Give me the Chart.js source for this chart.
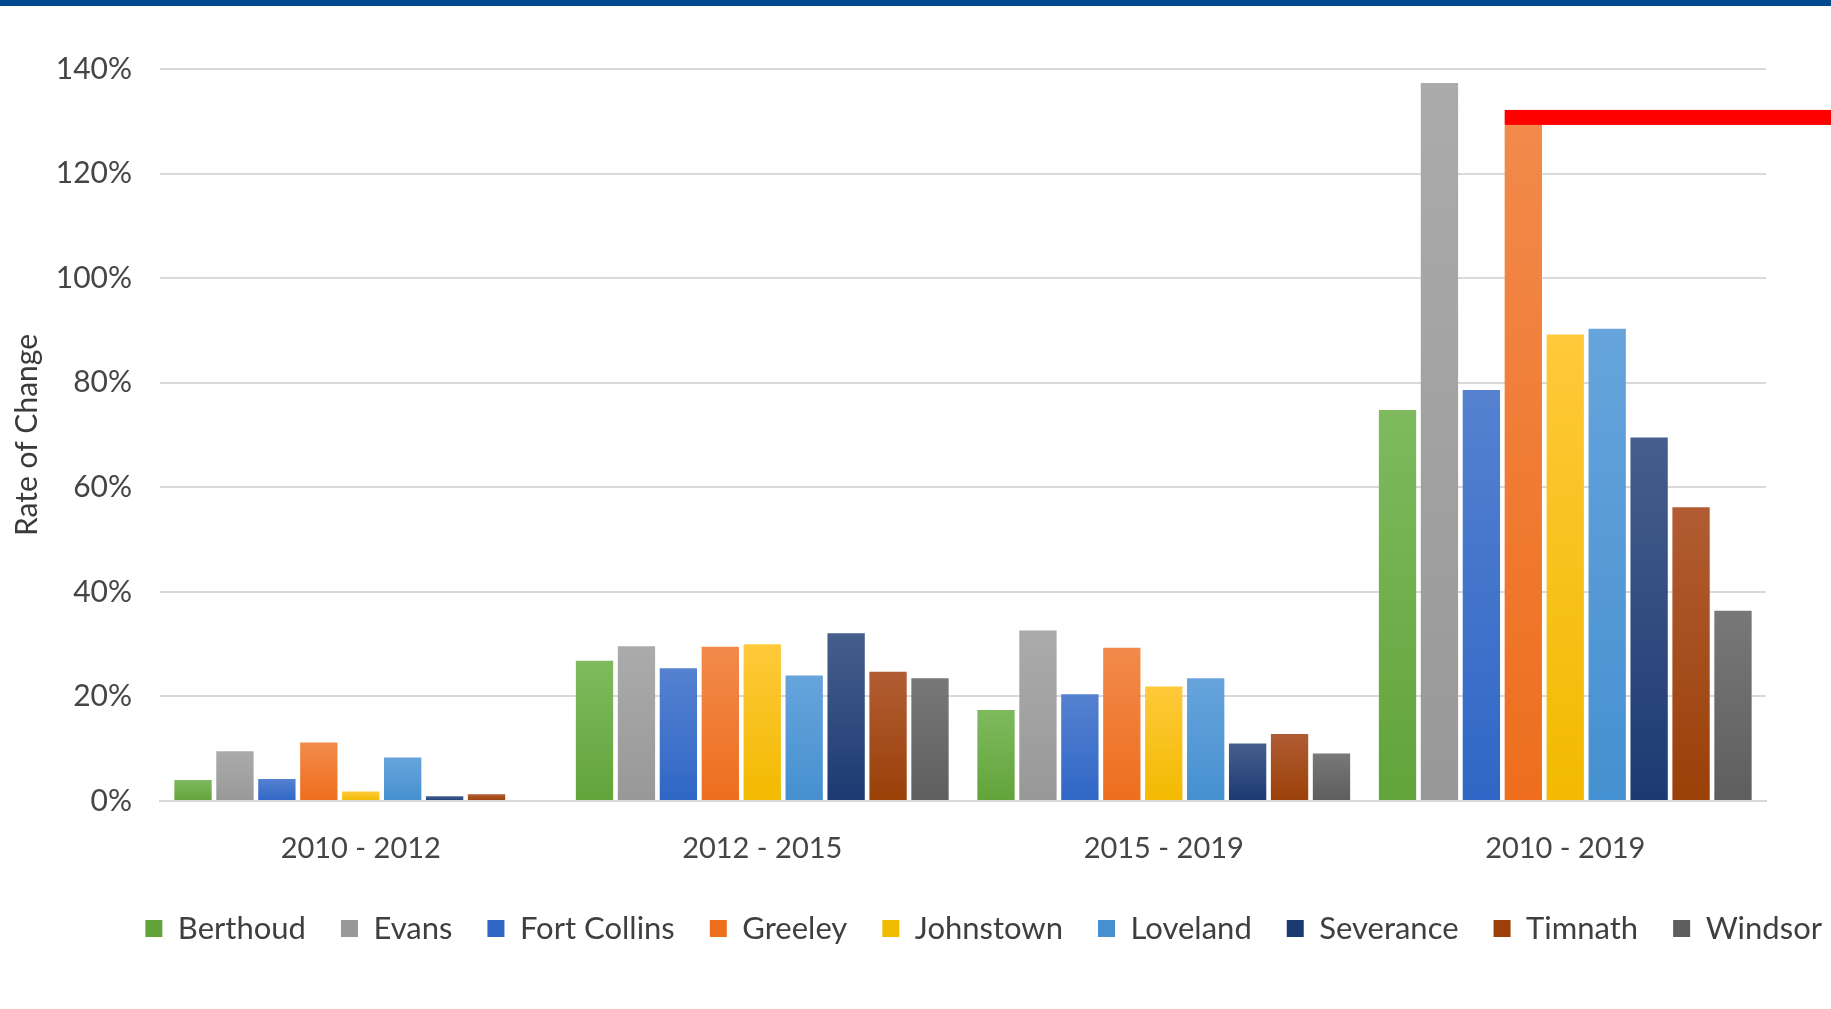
<!DOCTYPE html>
<html>
<head>
<meta charset="utf-8">
<script src="https://cdn.jsdelivr.net/npm/chart.js@4"></script>
<style>
  html, body { margin: 0; padding: 0; background: #fff; }
  #band { position: absolute; left: 0; top: 0; width: 1831px; height: 6px; background: #004a8f; }
  #wrap { position: relative; width: 1831px; height: 1009px; }
</style>
</head>
<body>
<div id="wrap">
  <canvas id="canvas" width="1831" height="1009"></canvas>
  <div id="band"></div>
</div>
<script>
// periods on the x axis
var periods = ['2010 - 2012', '2012 - 2015', '2015 - 2019', '2010 - 2019'];

// rate of change per town, in %
var berthoud    = [4.0, 26.8, 17.4, 74.8];
var evans       = [9.5, 29.6, 32.6, 137.3];
var fortCollins = [4.2, 25.4, 20.4, 78.6];
var greeley     = [11.2, 29.5, 29.3, 129.3];
var johnstown   = [1.8, 30.0, 21.9, 89.2];
var loveland    = [8.3, 24.0, 23.5, 90.3];
var severance   = [0.9, 32.1, 11.0, 69.5];
var timnath     = [1.3, 24.7, 12.8, 56.2];
var windsor     = [0, 23.5, 9.1, 36.4];

var yTicks = [0, 20, 40, 60, 80, 100, 120, 140];

// [legend colour, light top, dark bottom]
var towns = [
  ['Berthoud',     berthoud,    '#6aad46', '#7fba5e', '#62a33a'],
  ['Evans',        evans,       '#a5a5a5', '#ababab', '#989898'],
  ['Fort Collins', fortCollins, '#4472c4', '#5581d0', '#2f67c6'],
  ['Greeley',      greeley,     '#ed7d31', '#f28a4b', '#ee6e1e'],
  ['Johnstown',    johnstown,   '#ffc000', '#ffc93a', '#f2ba00'],
  ['Loveland',     loveland,    '#5b9bd5', '#67a4dc', '#4590d0'],
  ['Severance',    severance,   '#264478', '#465e8c', '#1c3a72'],
  ['Timnath',      timnath,     '#9e480e', '#b15c33', '#9a4008'],
  ['Windsor',      windsor,     '#636363', '#787878', '#5e5e5e']
];

function barFill(t) {
  return function(ctx) {
    var chart = ctx.chart;
    if (!chart.chartArea || ctx.type !== 'data') return t[2];
    var y = chart.scales.y;
    var top = y.getPixelForValue(ctx.raw);
    var bot = y.getPixelForValue(0);
    if (!isFinite(top) || top >= bot) return t[4];
    var g = chart.ctx.createLinearGradient(0, top, 0, bot);
    g.addColorStop(0, t[3]);
    g.addColorStop(1, t[4]);
    return g;
  };
}

var datasets = towns.map(function(t) {
  return {
    label: t[0],
    data: t[1],
    backgroundColor: barFill(t),
    borderWidth: 0,
    categoryPercentage: 0.94,
    barPercentage: 0.89,
    yAxisID: 'y'
  };
});

// red marker above the Greeley 2010-2019 bar
var redMark = {
  id: 'redMark',
  afterDatasetsDraw: function(chart) {
    var el = chart.getDatasetMeta(3).data[3];
    if (!el) return;
    var c = chart.ctx;
    c.save();
    c.fillStyle = '#ff0000';
    c.fillRect(el.x - el.width / 2, el.y - 15, chart.width - (el.x - el.width / 2), 15);
    c.restore();
  }
};

var font = "Lato, 'Open Sans', sans-serif";

new Chart(document.getElementById('canvas'), {
  type: 'bar',
  data: { labels: periods, datasets: datasets },
  options: {
    responsive: false,
    animation: false,
    layout: { padding: { top: 69, left: 0, right: -26, bottom: 55 } },
    plugins: {
      legend: {
        position: 'bottom',
        align: 'end',
        labels: {
          font: { family: font, size: 31 },
          color: '#3f3f3f',
          boxWidth: 17,
          boxHeight: 17,
          padding: 35
        }
      },
      tooltip: { enabled: false }
    },
    scales: {
      x: {
        afterFit: function(s) { s.height = 77; },
        grid: { display: false },
        border: { display: true, color: '#d9d9d9', width: 2 },
        ticks: { font: { family: font, size: 29 }, color: '#454545', padding: 22 }
      },
      y: {
        min: 0,
        max: 140,
        afterBuildTicks: function(s) { s.ticks = yTicks.map(function(v) { return { value: v }; }); },
        afterFit: function(s) { s.width = 160; },
        grid: { color: '#d9d9d9', lineWidth: 2, drawTicks: false },
        border: { display: false },
        ticks: {
          font: { family: font, size: 30 },
          color: '#454545',
          padding: 28,
          callback: function(v) { return v + '%'; }
        },
        title: {
          display: true,
          text: 'Rate of Change',
          font: { family: font, size: 30 },
          color: '#3a3a3a',
          padding: { top: 9, bottom: 0 }
        }
      },
      y2: {
        position: 'right',
        grid: { display: false },
        border: { display: false },
        ticks: { display: false },
        afterFit: function(s) { s.width = 91; }
      }
    }
  },
  plugins: [redMark]
});
</script>
</body>
</html>
